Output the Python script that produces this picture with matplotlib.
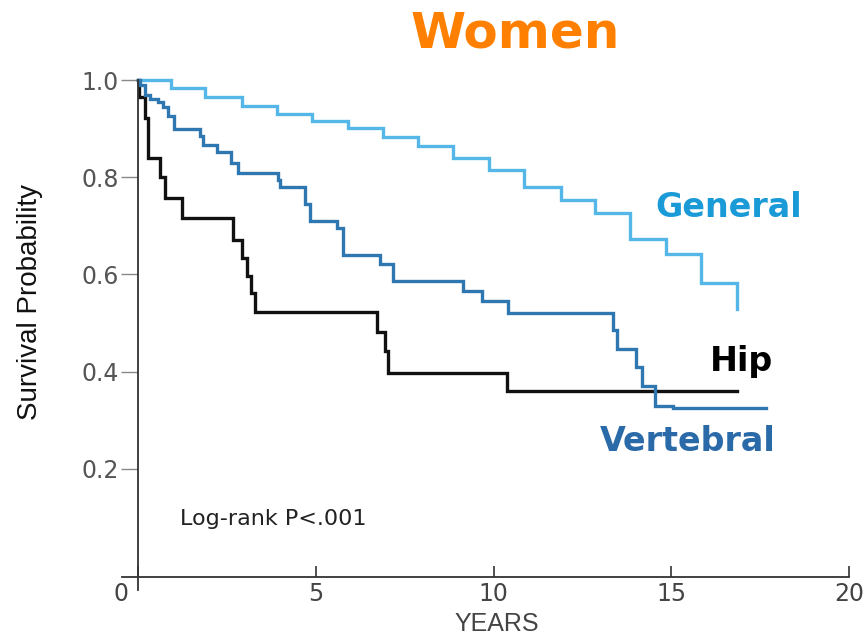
import matplotlib
matplotlib.use("Agg")
import matplotlib.pyplot as plt
import matplotlib.transforms as mtransforms

# ---- data ----
general_t = [0, 0.93, 1.88, 2.92, 3.90, 4.89, 5.90, 6.90, 7.87, 8.87, 9.88,
             10.86, 11.89, 12.86, 13.84, 14.84, 15.84, 16.84]
general_v = [1.0, 0.984, 0.965, 0.948, 0.930, 0.916, 0.902, 0.883, 0.864, 0.840,
             0.816, 0.781, 0.754, 0.726, 0.673, 0.642, 0.582, 0.529]

vert_t = [0, 0.06, 0.2, 0.35, 0.57, 0.71, 0.85, 1.0, 1.74, 1.84, 2.21, 2.63, 2.82,
          3.95, 4.0, 4.7, 4.84, 5.59, 5.78, 6.8, 7.18, 9.15, 9.67, 10.4, 13.37,
          13.48, 14.0, 14.17, 14.54, 15.05, 17.66]
vert_v = [1.0, 0.99, 0.97, 0.962, 0.955, 0.945, 0.927, 0.90, 0.885, 0.866, 0.852,
          0.83, 0.81, 0.795, 0.78, 0.745, 0.711, 0.695, 0.64, 0.622, 0.587, 0.566,
          0.546, 0.52, 0.486, 0.447, 0.41, 0.37, 0.33, 0.325, 0.325]

hip_t = [0, 0.03, 0.2, 0.27, 0.62, 0.76, 1.23, 2.66, 2.92, 3.06, 3.17, 3.29,
         6.71, 6.95, 7.04, 10.37, 16.84]
hip_v = [1.0, 0.965, 0.923, 0.84, 0.80, 0.757, 0.716, 0.672, 0.635, 0.597, 0.562,
         0.523, 0.482, 0.442, 0.398, 0.359, 0.359]

x_ticks = [0, 5, 10, 15, 20]
y_ticks = [0.2, 0.4, 0.6, 0.8, 1.0]
y_tick_labels = ["0.2", "0.4", "0.6", "0.8", "1.0"]

title = "Women"
x_label = "YEARS"
y_label = "Survival Probability"
note = "Log-rank P<.001"

c_general = "#55b6e8"
c_vert = "#2f77b0"
c_hip = "#111111"

fig = plt.figure(figsize=(8.66, 6.39), dpi=100)
ax = fig.add_axes([0.1388, 0.0692, 0.854, 0.8278])
ax.set_xlim(-0.5, 20.3)
ax.set_ylim(-0.06, 1.03)

ax.step(general_t, general_v, where="post", color=c_general, lw=2.4, solid_joinstyle="miter")
ax.step(hip_t, hip_v, where="post", color=c_hip, lw=2.4, solid_joinstyle="miter")
ax.step(vert_t, vert_v, where="post", color=c_vert, lw=2.4, solid_joinstyle="miter")

for s in ["top", "right"]:
    ax.spines[s].set_visible(False)
ax.spines["left"].set_position(("data", 0))
ax.spines["bottom"].set_position(("data", -0.023))
ax.spines["left"].set_bounds(-0.05, 1.0)
ax.spines["bottom"].set_bounds(-0.45, 20)
ax.spines["left"].set_color("#333333")
ax.spines["bottom"].set_color("#333333")
ax.spines["left"].set_linewidth(1.3)
ax.spines["bottom"].set_linewidth(1.3)

ax.set_xticks(x_ticks)
ax.set_xticklabels([str(v) for v in x_ticks])
ax.set_yticks(y_ticks)
ax.set_yticklabels(y_tick_labels)
ax.tick_params(axis="y", direction="out", length=12, width=1, color="#888888",
               labelsize=17, labelcolor="#555555", pad=2)
ax.tick_params(axis="x", direction="in", length=8, width=1.2, color="#333333",
               labelsize=17, labelcolor="#444444", pad=4)
for lab in ax.get_xticklabels() + ax.get_yticklabels():
    lab.set_family("DejaVu Sans")
xl0 = ax.get_xticklabels()[0]
xl0.set_transform(xl0.get_transform() + mtransforms.ScaledTranslation(-12/72, 0, fig.dpi_scale_trans))

fig.text(497/866, 1 - 624/639, x_label, ha="center", va="center", fontsize=18,
         color="#444444", family="Liberation Sans")
fig.text(30/866, 1 - 302/639, y_label, ha="center", va="center", rotation=90,
         fontsize=20, color="#111111", family="Liberation Sans")
fig.text(515/866, 1 - 33/639, title, ha="center", va="center", fontsize=36,
         fontweight="bold", color="#ff8000", family="DejaVu Sans")

ax.text(14.54, 0.739, "General", color="#1a9ad6", fontsize=24, fontweight="bold",
        ha="left", va="center", family="DejaVu Sans")
ax.text(16.09, 0.42, "Hip", color="#000000", fontsize=24, fontweight="bold",
        ha="left", va="center", family="DejaVu Sans")
ax.text(13.0, 0.255, "Vertebral", color="#2a6aa8", fontsize=24, fontweight="bold",
        ha="left", va="center", family="DejaVu Sans")
ax.text(1.18, 0.096, note, color="#222222", fontsize=16, ha="left", va="center",
        family="DejaVu Sans")

fig.savefig("out.png", dpi=100)
